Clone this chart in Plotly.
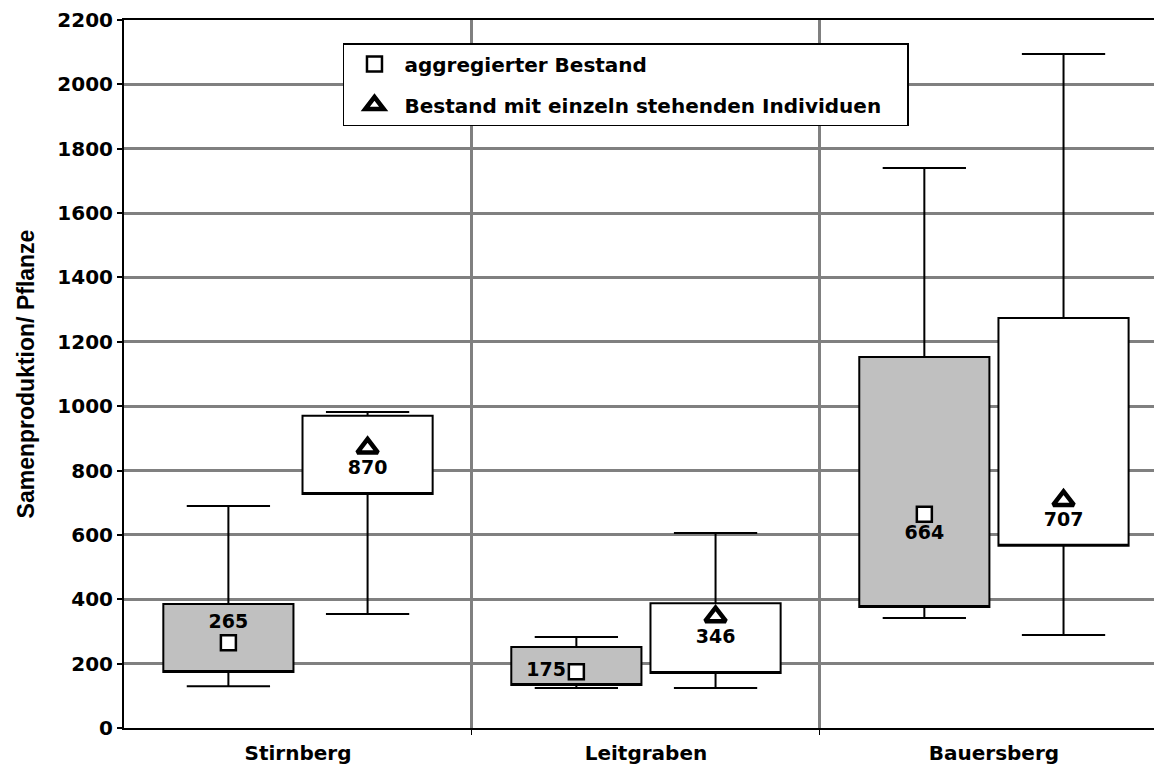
import plotly.graph_objects as go

# ---- data ----
sites = ["Stirnberg", "Leitgraben", "Bauersberg"]

agg_lower = [130, 124, 342]
agg_q1 = [174, 134, 376]
agg_q3 = [385, 252, 1153]
agg_upper = [690, 283, 1740]
agg_mean = [265, 175, 664]

ind_lower = [354, 124, 289]
ind_q1 = [727, 171, 566]
ind_q3 = [970, 388, 1274]
ind_upper = [982, 606, 2094]
ind_mean = [870, 346, 707]

y_ticks = [0, 200, 400, 600, 800, 1000, 1200, 1400, 1600, 1800, 2000, 2200]

series_names = ["aggregierter Bestand", "Bestand mit einzeln stehenden Individuen"]

agg_label_pos = ["top center", "middle left", "bottom center"]
ind_label_pos = ["bottom center", "bottom center", "bottom center"]

# ---- layout helpers ----
idx = list(range(len(sites)))
off = 0.2
x_agg = [i - off for i in idx]
x_ind = [i + off for i in idx]
box_w = 0.374
FONT = "DejaVu Sans"

fig = go.Figure()

fig.add_trace(go.Box(
    x=x_agg, q1=agg_q1, median=agg_q1, q3=agg_q3,
    lowerfence=agg_lower, upperfence=agg_upper,
    width=box_w, whiskerwidth=0.64, boxpoints=False,
    fillcolor="#c0c0c0", line=dict(color="black", width=2),
    showlegend=False, hoverinfo="skip",
))
fig.add_trace(go.Box(
    x=x_ind, q1=ind_q1, median=ind_q1, q3=ind_q3,
    lowerfence=ind_lower, upperfence=ind_upper,
    width=box_w, whiskerwidth=0.64, boxpoints=False,
    fillcolor="white", line=dict(color="black", width=2),
    showlegend=False, hoverinfo="skip",
))

# value labels (invisible markers used for offset)
fig.add_trace(go.Scatter(
    x=x_agg, y=agg_mean, mode="markers+text",
    text=[str(v) for v in agg_mean], textposition=agg_label_pos,
    textfont=dict(family=FONT, size=19, color="black", weight="bold"),
    marker=dict(size=15, opacity=0), showlegend=False, hoverinfo="skip",
))
fig.add_trace(go.Scatter(
    x=x_ind, y=ind_mean, mode="markers+text",
    text=[str(v) for v in ind_mean], textposition=ind_label_pos,
    textfont=dict(family=FONT, size=19, color="black", weight="bold"),
    marker=dict(size=17, opacity=0), showlegend=False, hoverinfo="skip",
))

# mean markers (with legend)
fig.add_trace(go.Scatter(
    x=x_agg, y=agg_mean, mode="markers", name=series_names[0],
    marker=dict(symbol="square", size=15, color="white",
                line=dict(color="black", width=2.5)),
    legendgroup="a", hoverinfo="skip",
))
fig.add_trace(go.Scatter(
    x=x_ind, y=ind_mean, mode="markers", name=series_names[1] + "\u00a0\u00a0\u00a0",
    marker=dict(symbol="triangle-up", size=18, color="white",
                line=dict(color="black", width=4.5)),
    legendgroup="b", hoverinfo="skip",
))

fig.update_layout(
    width=1154, height=766,
    margin=dict(l=124, r=0, t=20, b=38),
    paper_bgcolor="white", plot_bgcolor="white",
    font=dict(family=FONT, color="black"),
    legend=dict(
        x=0.2126, y=0.9675, xanchor="left", yanchor="top",
        bgcolor="white", bordercolor="black", borderwidth=1.5,
        font=dict(family=FONT, size=20, color="black", weight="bold"),
        tracegroupgap=12, itemwidth=50,
    ),
    xaxis=dict(
        range=[-0.5, 2.46],
        tickmode="array", tickvals=idx, ticktext=sites,
        ticks="", showgrid=False, zeroline=False,
        tickfont=dict(family=FONT, size=20, color="black", weight="bold"),
        ticklabelstandoff=6,
        showline=True, linecolor="black", linewidth=2, mirror=True,
        minor=dict(tickvals=[i + 0.5 for i in idx], showgrid=True,
                   gridcolor="#808080", gridwidth=3,
                   ticks="outside", ticklen=5, tickcolor="black"),
    ),
    yaxis=dict(
        range=[0, 2200],
        tickmode="array", tickvals=y_ticks,
        ticks="outside", ticklen=5, tickcolor="black", tickwidth=1.5,
        showgrid=True, gridcolor="#808080", gridwidth=3,
        zeroline=False,
        showline=True, linecolor="black", linewidth=2,
        tickfont=dict(family=FONT, size=20, color="black", weight="bold"),
        title=dict(text="Samenproduktion/ Pflanze", standoff=16,
                   font=dict(family="Liberation Sans", size=23, color="black", weight="bold")),
    ),
)

fig.write_html("out.html", config={"displayModeBar": False},
               post_script="document.body.style.margin='0';document.body.style.overflow='hidden';")
